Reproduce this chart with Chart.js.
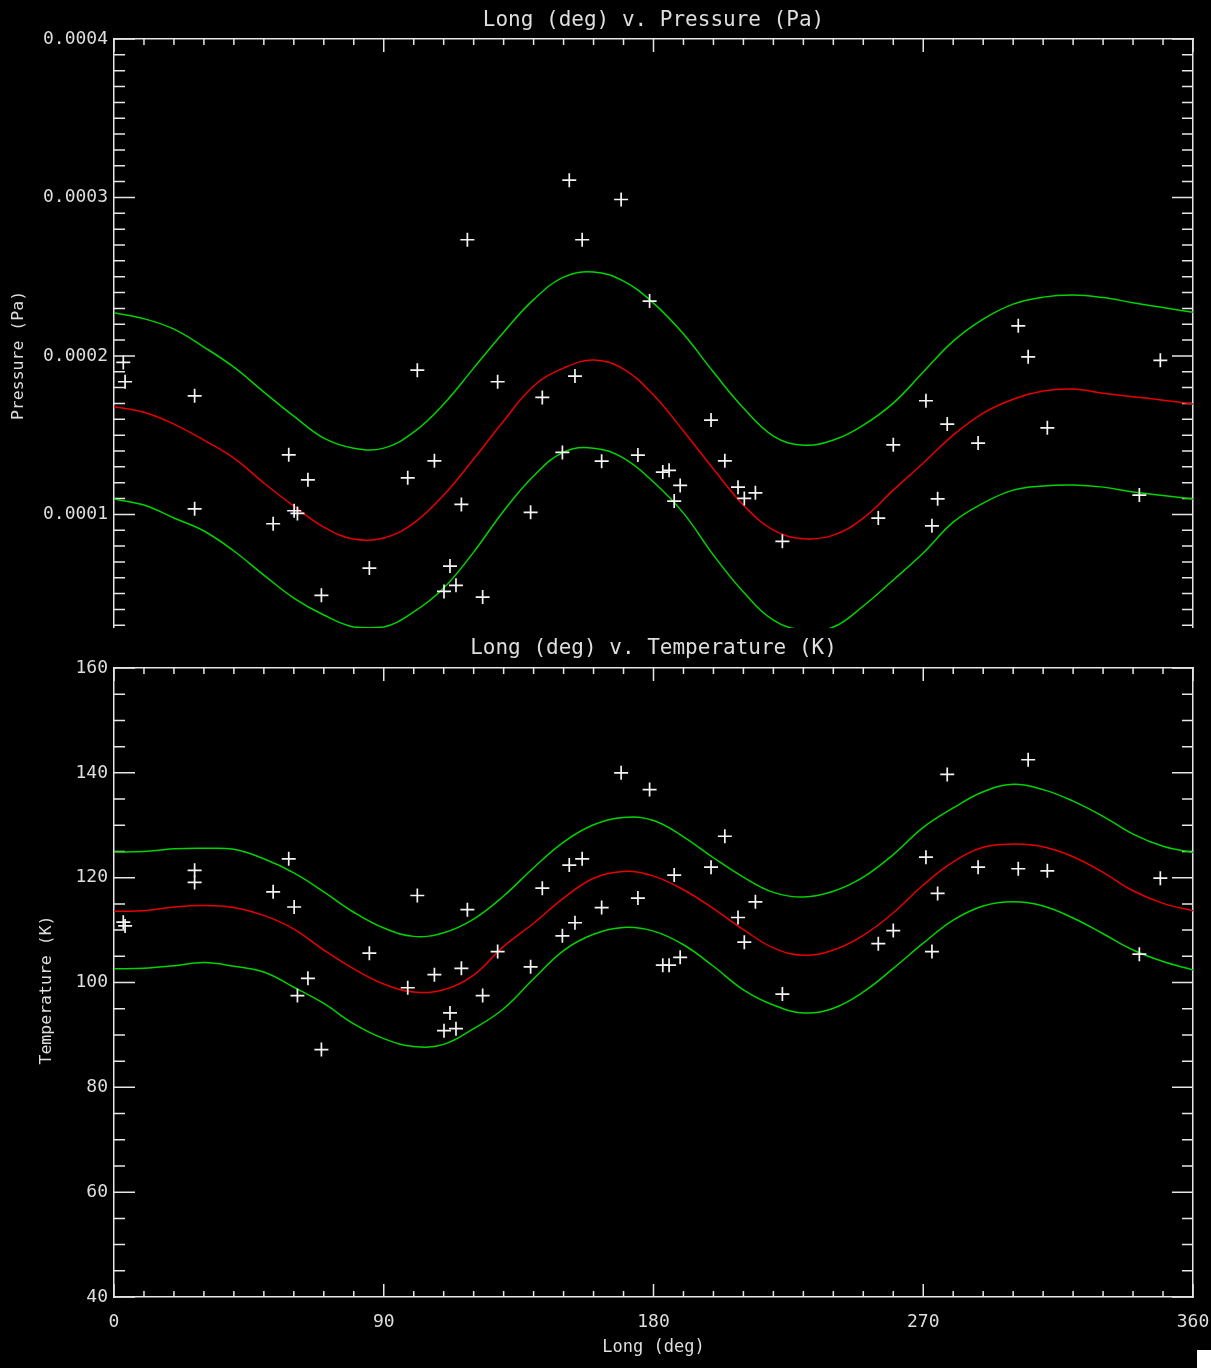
<!DOCTYPE html>
<html>
<head>
<meta charset="utf-8">
<title>Longitude profiles</title>
<script src="https://cdn.jsdelivr.net/npm/chart.js@4.4.1/dist/chart.umd.min.js"></script>
<style>
  html, body { margin: 0; padding: 0; background: #000; }
  body { width: 1211px; height: 1368px; position: relative; overflow: hidden; }
  #pressurePlot { position: absolute; left: 0; top: 0; }
  #temperaturePlot { position: absolute; left: 0; top: 628px; }
  #cornerMark { position: absolute; left: 1197px; top: 1350px; width: 14px; height: 18px; background: #fff; }
</style>
</head>
<body>
<canvas id="pressurePlot" width="1211" height="628"></canvas>
<canvas id="temperaturePlot" width="1211" height="740"></canvas>
<div id="cornerMark"></div>
<script>
// ---- measured points -------------------------------------------------------
const longitude = [3.1, 3.7, 26.9, 26.9, 53.1, 58.3, 60.1, 61.2, 64.7, 69.2,
  85.2, 98.0, 101.2, 106.9, 110.1, 112.1, 114.1, 115.9, 117.9, 123.0,
  128.0, 139.0, 142.9, 149.6, 151.9, 153.8, 156.2, 162.7, 169.2, 174.8,
  178.7, 183.1, 185.2, 186.9, 188.9, 199.2, 203.8, 208.2, 210.3, 214.0,
  223.0, 255.0, 260.0, 270.9, 272.9, 274.8, 278.0, 288.3, 301.7, 305.0,
  311.4, 342.1, 349.1];

const pressure = [1.959e-4, 1.837e-4, 1.748e-4, 1.035e-4, 0.941e-4, 1.376e-4, 1.023e-4, 1.006e-4, 1.218e-4, 0.489e-4,
  0.661e-4, 1.231e-4, 1.910e-4, 1.338e-4, 0.514e-4, 0.674e-4, 0.552e-4, 1.063e-4, 2.733e-4, 0.478e-4,
  1.837e-4, 1.013e-4, 1.738e-4, 1.391e-4, 3.109e-4, 1.873e-4, 2.733e-4, 1.336e-4, 2.987e-4, 1.374e-4,
  2.346e-4, 1.267e-4, 1.278e-4, 1.084e-4, 1.183e-4, 1.595e-4, 1.338e-4, 1.172e-4, 1.101e-4, 1.136e-4,
  0.830e-4, 0.977e-4, 1.439e-4, 1.717e-4, 0.928e-4, 1.098e-4, 1.570e-4, 1.450e-4, 2.190e-4, 1.994e-4,
  1.546e-4, 1.122e-4, 1.972e-4];

const temperature = [111.5, 110.8, 121.4, 119.1, 117.3, 123.6, 114.4, 97.5, 100.8, 87.2,
  105.6, 99.0, 116.6, 101.5, 90.8, 94.2, 91.2, 102.7, 113.9, 97.5,
  105.9, 103.0, 118.0, 108.9, 122.4, 111.4, 123.6, 114.3, 140.0, 116.1,
  136.8, 103.3, 103.3, 120.5, 104.8, 122.0, 127.9, 112.4, 107.7, 115.4,
  97.8, 107.4, 109.9, 123.9, 105.9, 117.0, 139.7, 122.0, 121.7, 142.5,
  121.3, 105.4, 119.9];

// ---- fitted wave and its envelope, every 10 degrees ------------------------
const fitLongitude = [0, 10, 20, 30, 40, 50, 60, 70, 80, 90, 100, 110, 120, 130, 140, 150, 160, 170, 180,
  190, 200, 210, 220, 230, 240, 250, 260, 270, 280, 290, 300, 310, 320, 330, 340, 350, 360];

const pressureFit = [1.680e-4, 1.645e-4, 1.570e-4, 1.469e-4, 1.355e-4, 1.198e-4, 1.052e-4, 0.920e-4, 0.844e-4, 0.851e-4,
  0.945e-4, 1.122e-4, 1.349e-4, 1.589e-4, 1.810e-4, 1.923e-4, 1.974e-4, 1.917e-4, 1.753e-4, 1.526e-4,
  1.286e-4, 1.059e-4, 0.901e-4, 0.847e-4, 0.869e-4, 0.977e-4, 1.153e-4, 1.324e-4, 1.500e-4, 1.639e-4,
  1.727e-4, 1.778e-4, 1.791e-4, 1.765e-4, 1.743e-4, 1.721e-4, 1.696e-4];
const pressureHigh = [2.273e-4, 2.235e-4, 2.169e-4, 2.056e-4, 1.929e-4, 1.772e-4, 1.620e-4, 1.481e-4, 1.418e-4, 1.418e-4,
  1.519e-4, 1.696e-4, 1.923e-4, 2.150e-4, 2.355e-4, 2.497e-4, 2.529e-4, 2.472e-4, 2.333e-4, 2.138e-4,
  1.898e-4, 1.671e-4, 1.494e-4, 1.437e-4, 1.469e-4, 1.563e-4, 1.702e-4, 1.898e-4, 2.093e-4, 2.232e-4,
  2.327e-4, 2.371e-4, 2.384e-4, 2.368e-4, 2.336e-4, 2.305e-4, 2.276e-4];
const pressureLow = [1.097e-4, 1.059e-4, 0.977e-4, 0.895e-4, 0.769e-4, 0.617e-4, 0.472e-4, 0.365e-4, 0.289e-4, 0.289e-4,
  0.384e-4, 0.535e-4, 0.762e-4, 1.021e-4, 1.242e-4, 1.393e-4, 1.418e-4, 1.355e-4, 1.204e-4, 1.008e-4,
  0.743e-4, 0.510e-4, 0.333e-4, 0.270e-4, 0.289e-4, 0.422e-4, 0.586e-4, 0.756e-4, 0.951e-4, 1.071e-4,
  1.153e-4, 1.179e-4, 1.185e-4, 1.172e-4, 1.141e-4, 1.119e-4, 1.097e-4];

const temperatureFit = [113.6, 113.7, 114.4, 114.7, 114.3, 112.8, 110.2, 106.2, 102.6, 99.7,
  98.2, 98.6, 101.4, 106.9, 111.3, 116.1, 119.9, 121.2, 120.3, 117.7,
  114.1, 110.1, 106.6, 105.2, 106.2, 109.0, 113.3, 118.6, 123.0, 125.8,
  126.4, 125.9, 124.0, 121.0, 117.5, 115.1, 113.7];
const temperatureHigh = [124.9, 125.0, 125.5, 125.6, 125.4, 123.6, 120.9, 117.3, 113.4, 110.4,
  108.8, 109.5, 112.1, 116.5, 121.9, 126.8, 130.1, 131.5, 130.9, 127.8,
  123.8, 120.1, 117.2, 116.3, 117.4, 120.1, 124.4, 129.6, 133.3, 136.4,
  137.8, 136.8, 134.6, 131.7, 128.3, 126.0, 124.8];
const temperatureLow = [102.6, 102.7, 103.2, 103.8, 103.1, 102.0, 99.1, 96.0, 92.1, 89.3,
  87.8, 88.2, 91.2, 95.0, 100.7, 106.1, 109.2, 110.5, 109.8, 107.2,
  103.1, 98.6, 95.7, 94.2, 95.1, 98.2, 102.7, 107.5, 111.9, 114.6,
  115.4, 114.6, 112.3, 109.3, 106.2, 104.0, 102.4];

// ---- axes ------------------------------------------------------------------
const longRange = [0, 360];
const longLabels = [0, 90, 180, 270, 360];
const pressureRange = [0.0000283, 0.0004];
const pressureLabels = [0.0001, 0.0002, 0.0003, 0.0004];
const temperatureRange = [40, 160];
const temperatureLabels = [40, 60, 80, 100, 120, 140, 160];

// ---- look ------------------------------------------------------------------
const FONT = "'DejaVu Sans Mono', monospace";
const INK = '#dedede';
const FRAME = '#e6e6e6';
const RED = '#e80000';
const GREEN = '#00d400';
const POINT = '#f4f4f4';

const pairs = (xs, ys) => xs.map((x, i) => ({ x, y: ys[i] }));
const listed = (v, list) => list.some(t => Math.abs(t - v) <= Math.abs(t) * 1e-6 + 1e-12);

// IDL-style frame: tick marks point into the plot, long at labelled values
function inwardTicks(marks) {
  return {
    id: 'inwardTicks',
    beforeDatasetsDraw(chart) {
      const { ctx, chartArea: a } = chart;
      ctx.save();
      ctx.strokeStyle = FRAME;
      ctx.lineWidth = 1.5;
      ctx.beginPath();
      Object.values(chart.scales).forEach(s => {
        const m = marks[s.id];
        if (!m) return;
        s.ticks.forEach(t => {
          const p = s.getPixelForValue(t.value);
          const len = listed(t.value, m.labels) ? m.major : m.minor;
          if (s.position === 'left') { ctx.moveTo(a.left, p); ctx.lineTo(a.left + len, p); }
          else if (s.position === 'right') { ctx.moveTo(a.right, p); ctx.lineTo(a.right - len, p); }
          else if (s.position === 'top') { ctx.moveTo(p, a.top); ctx.lineTo(p, a.top + len); }
          else { ctx.moveTo(p, a.bottom); ctx.lineTo(p, a.bottom - len); }
        });
      });
      ctx.stroke();
      ctx.restore();
    }
  };
}

// rotated axis title beside the tick labels
function sideTitle(text, x, dy) {
  return {
    id: 'sideTitle',
    afterDraw(chart) {
      const { ctx, chartArea: a } = chart;
      ctx.save();
      ctx.translate(x, (a.top + a.bottom) / 2 + dy);
      ctx.rotate(-Math.PI / 2);
      ctx.font = '16.5px ' + FONT;
      ctx.fillStyle = INK;
      ctx.textAlign = 'center';
      ctx.textBaseline = 'middle';
      ctx.fillText(text, 0, 0);
      ctx.restore();
    }
  };
}

const noGrid = { display: false, drawTicks: false };
const frameBorder = { display: true, color: FRAME, width: 1.5 };
const noPad = s => { s.paddingTop = 0; s.paddingBottom = 0; s.paddingLeft = 0; s.paddingRight = 0; };

function longAxis(position, height, title, showLabels) {
  return {
    type: 'linear', position, min: longRange[0], max: longRange[1],
    grid: noGrid, border: frameBorder,
    ticks: {
      display: showLabels, stepSize: 10, maxTicksLimit: 100, includeBounds: false,
      autoSkip: false, maxRotation: 0, padding: 15, color: INK,
      font: { family: FONT, size: 18 },
      callback: v => listed(v, longLabels) ? String(Math.round(v)) : ''
    },
    title: title ? {
      display: true, text: title.text, color: INK,
      font: { family: FONT, size: title.size },
      padding: title.padding
    } : { display: false },
    afterFit(s) { s.height = height; noPad(s); }
  };
}

function valueAxis(position, range, step, labels, format, width) {
  return {
    type: 'linear', position, min: range[0], max: range[1],
    grid: noGrid, border: frameBorder,
    ticks: {
      display: position === 'left', stepSize: step, maxTicksLimit: 200, includeBounds: false,
      autoSkip: false, padding: 6, color: INK,
      // single-line labels: a tiny line height keeps them from padding the plot edges
      font: { family: FONT, size: 18, lineHeight: 0.01 },
      callback: v => listed(v, labels) ? format(v) : ''
    },
    afterFit(s) { s.width = width; noPad(s); }
  };
}

function datasets(xAxisID, values, fit, high, low) {
  return [
    { label: 'obs', xAxisID, data: pairs(longitude, values), showLine: false,
      pointStyle: 'cross', pointRadius: 7, pointBorderWidth: 1.7,
      borderColor: POINT, backgroundColor: POINT, clip: false },
    { label: 'fit', xAxisID, data: pairs(fitLongitude, fit), showLine: true,
      borderColor: RED, borderWidth: 1.5, pointRadius: 0, tension: 0.4 },
    { label: 'high', xAxisID, data: pairs(fitLongitude, high), showLine: true,
      borderColor: GREEN, borderWidth: 1.5, pointRadius: 0, tension: 0.4 },
    { label: 'low', xAxisID, data: pairs(fitLongitude, low), showLine: true,
      borderColor: GREEN, borderWidth: 1.5, pointRadius: 0, tension: 0.4 }
  ];
}

const common = {
  responsive: false, animation: false, devicePixelRatio: 1,
  // the frame is placed by the axis boxes alone; markers may sit on the edges
  layout: { padding: 0, autoPadding: false },
  plugins: { legend: { display: false }, tooltip: { enabled: false }, title: { display: false } },
  events: []
};

// ---- pressure panel --------------------------------------------------------
new Chart(document.getElementById('pressurePlot'), {
  type: 'scatter',
  data: { datasets: datasets('xTop', pressure, pressureFit, pressureHigh, pressureLow) },
  options: Object.assign({}, common, {
    scales: {
      xTop: longAxis('top', 39, { text: 'Long (deg) v. Pressure (Pa)', size: 21, padding: { top: 8, bottom: 0 } }, false),
      y: valueAxis('left', pressureRange, 0.00001, pressureLabels, v => v.toFixed(4), 114),
      yRight: valueAxis('right', pressureRange, 0.00001, pressureLabels, v => v.toFixed(4), 18)
    }
  }),
  plugins: [
    inwardTicks({
      xTop: { labels: longLabels, major: 13, minor: 6 },
      y: { labels: pressureLabels, major: 21, minor: 11 },
      yRight: { labels: pressureLabels, major: 21, minor: 11 }
    }),
    sideTitle('Pressure (Pa)', 19, 22)
  ]
});

// ---- temperature panel -----------------------------------------------------
new Chart(document.getElementById('temperaturePlot'), {
  type: 'scatter',
  data: { datasets: datasets('x', temperature, temperatureFit, temperatureHigh, temperatureLow) },
  options: Object.assign({}, common, {
    scales: {
      xTop: longAxis('top', 40, { text: 'Long (deg) v. Temperature (K)', size: 21, padding: { top: 8, bottom: 0 } }, false),
      x: longAxis('bottom', 71, { text: 'Long (deg)', size: 17, padding: { top: 0, bottom: 10 } }, true),
      y: valueAxis('left', temperatureRange, 5, temperatureLabels, v => String(Math.round(v)), 114),
      yRight: valueAxis('right', temperatureRange, 5, temperatureLabels, v => String(Math.round(v)), 18)
    }
  }),
  plugins: [
    inwardTicks({
      xTop: { labels: longLabels, major: 13, minor: 6 },
      x: { labels: longLabels, major: 13, minor: 6 },
      y: { labels: temperatureLabels, major: 21, minor: 11 },
      yRight: { labels: temperatureLabels, major: 21, minor: 11 }
    }),
    sideTitle('Temperature (K)', 47, 7.5)
  ]
});
</script>
</body>
</html>
